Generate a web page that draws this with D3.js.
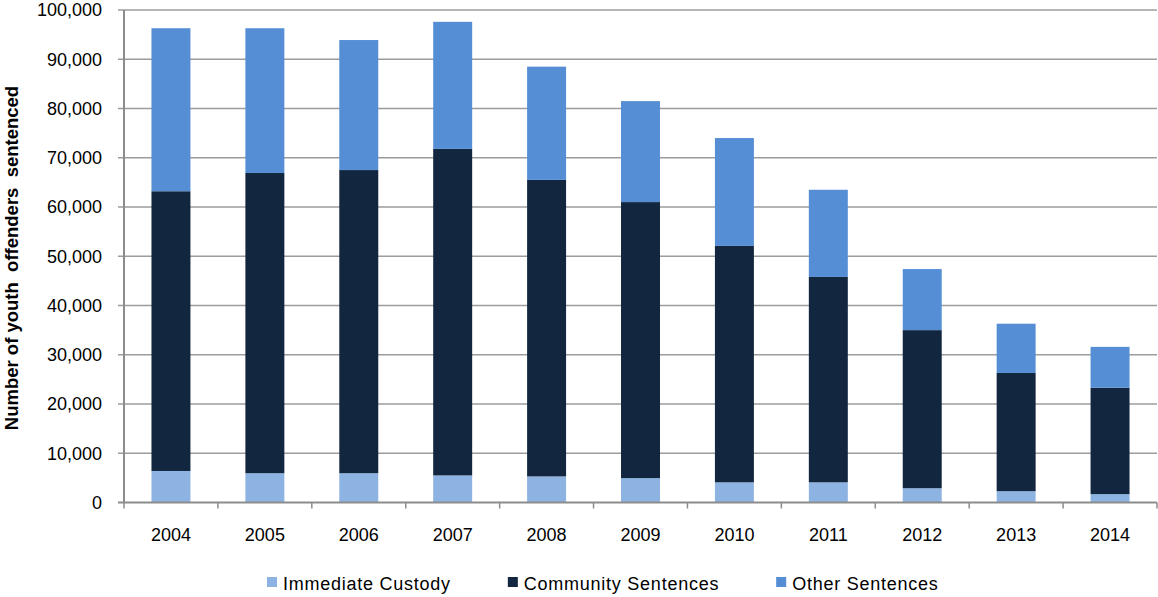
<!DOCTYPE html>
<html>
<head>
<meta charset="utf-8">
<script src="https://cdn.jsdelivr.net/npm/d3@7"></script>
<style>
  html, body { margin: 0; padding: 0; background: #fff; }
  svg { display: block; font-family: "Liberation Sans", Arial, sans-serif; }
</style>
</head>
<body>
<svg id="chart" width="1158" height="597"></svg>
<script>
// Youth offenders sentenced, by sentence type
const years = ["2004", "2005", "2006", "2007", "2008", "2009", "2010", "2011", "2012", "2013", "2014"];
const immediateCustody = [6400, 5950, 5950, 5500, 5300, 4950, 4100, 4100, 2900, 2300, 1700];
const communitySentences = [56800, 60950, 61550, 66300, 60200, 56050, 48000, 41700, 32100, 24000, 21600];
const otherSentences = [33100, 29400, 26400, 25800, 23000, 20500, 21900, 17700, 12400, 10000, 8300];
const seriesNames = ["Immediate Custody", "Community Sentences", "Other Sentences"];
const seriesColors = ["#8db3e2", "#12263f", "#558ed5"];
const yTicks = [0, 10000, 20000, 30000, 40000, 50000, 60000, 70000, 80000, 90000, 100000];
const yTitle = "Number of youth  offenders  sentenced";

const svg = d3.select("#chart");
const margin = { left: 124, right: 1157, top: 10, bottom: 502.5 };

const rows = years.map((y, i) => ({
  year: y,
  "Immediate Custody": immediateCustody[i],
  "Community Sentences": communitySentences[i],
  "Other Sentences": otherSentences[i]
}));
const stacked = d3.stack().keys(seriesNames)(rows);

const x = d3.scaleBand().domain(years).range([margin.left, margin.right])
  .paddingInner(0.585).paddingOuter(0.2925);
const y = d3.scaleLinear().domain([0, 100000]).range([margin.bottom, margin.top]);

// Horizontal gridlines (extend a little left of the axis as ticks)
svg.append("g")
  .selectAll("line")
  .data(yTicks.filter(t => t > 0))
  .join("line")
  .attr("x1", margin.left - 6)
  .attr("x2", margin.right)
  .attr("y1", d => y(d))
  .attr("y2", d => y(d))
  .attr("stroke", "#9c9c9c")
  .attr("stroke-width", 1.6);

// Y tick labels
const fmt = d3.format(",");
svg.append("g")
  .selectAll("text")
  .data(yTicks)
  .join("text")
  .attr("x", 102)
  .attr("y", d => y(d))
  .attr("dy", "0.36em")
  .attr("text-anchor", "end")
  .attr("font-size", 18)
  .attr("fill", "#000")
  .text(d => fmt(d));

// Stacked bars
svg.append("g")
  .selectAll("g")
  .data(stacked)
  .join("g")
  .attr("fill", (d, i) => seriesColors[i])
  .selectAll("rect")
  .data(d => d)
  .join("rect")
  .attr("x", d => x(d.data.year))
  .attr("width", x.bandwidth())
  .attr("y", d => y(d[1]))
  .attr("height", d => y(d[0]) - y(d[1]));

// Y axis line
svg.append("line")
  .attr("x1", margin.left).attr("x2", margin.left)
  .attr("y1", margin.top).attr("y2", margin.bottom)
  .attr("stroke", "#8c8c8c").attr("stroke-width", 2);

// X axis labels
const xAxis = d3.axisBottom(x).tickSize(0).tickPadding(0);
const gx = svg.append("g").attr("transform", `translate(0,${margin.bottom})`).call(xAxis);
gx.select(".domain").remove();
gx.selectAll(".tick text")
  .attr("font-size", 18)
  .attr("font-family", "\"Liberation Sans\", Arial, sans-serif")
  .attr("fill", "#000")
  .attr("y", 38)
  .attr("dy", 0);

// Tick marks at category boundaries
const boundaries = years.map(yr => x(yr) - (x.step() - x.bandwidth()) / 2);
boundaries.push(margin.right);
svg.append("g")
  .selectAll("line")
  .data(boundaries)
  .join("line")
  .attr("x1", d => d).attr("x2", d => d)
  .attr("y1", margin.bottom).attr("y2", margin.bottom + 6)
  .attr("stroke", "#8c8c8c").attr("stroke-width", 1.5);
svg.append("line")
  .attr("x1", margin.left - 6).attr("x2", margin.right)
  .attr("y1", margin.bottom).attr("y2", margin.bottom)
  .attr("stroke", "#8c8c8c").attr("stroke-width", 2);

// Y axis title
svg.append("text")
  .attr("transform", `translate(18,${258}) rotate(-90)`)
  .attr("text-anchor", "middle")
  .attr("font-size", 18.5)
  .attr("font-weight", "bold")
  .style("white-space", "pre")
  .attr("fill", "#000")
  .text(yTitle);

// Legend
const legend = svg.append("g");
let lx = 267;
seriesNames.forEach((name, i) => {
  legend.append("rect")
    .attr("x", lx).attr("y", 577)
    .attr("width", 10).attr("height", 10)
    .attr("fill", seriesColors[i]);
  const t = legend.append("text")
    .attr("x", lx + 16).attr("y", 590)
    .attr("font-size", 18)
    .style("letter-spacing", "0.75px")
    .attr("fill", "#000")
    .text(name);
  lx += 16 + t.node().getComputedTextLength() + 57;
});
</script>
</body>
</html>
